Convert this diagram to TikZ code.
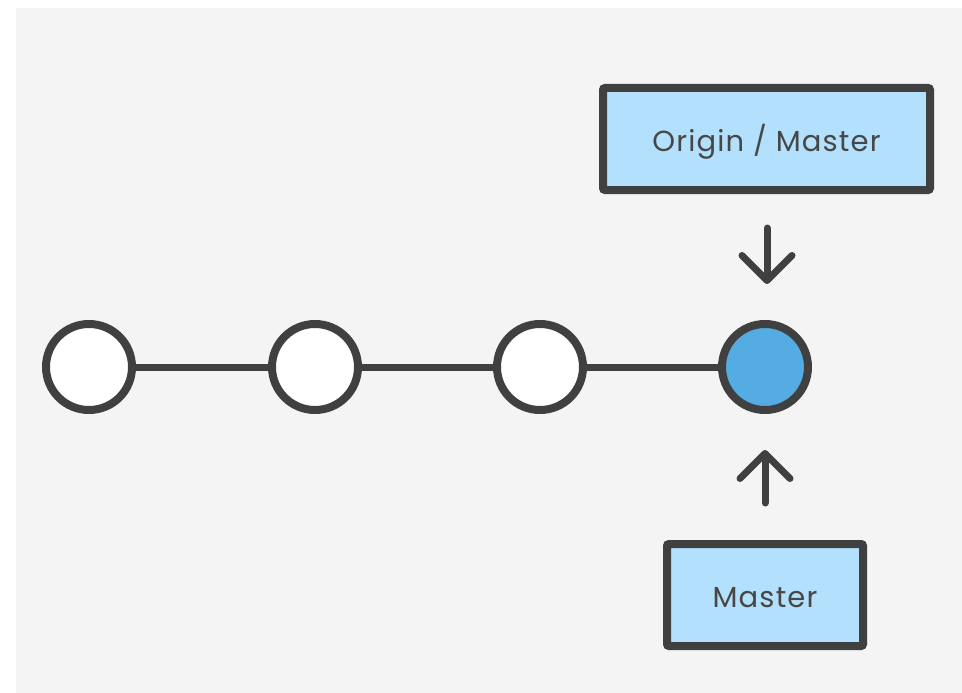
\documentclass[tikz,border=0pt]{standalone}
\usepackage{fontspec}
\setmainfont{Poppins}[LetterSpace=4]
\usetikzlibrary{arrows.meta}
\definecolor{bgray}{HTML}{F4F4F4}
\definecolor{ink}{HTML}{404040}
\definecolor{txt}{HTML}{474747}
\definecolor{boxfill}{HTML}{B3E1FD}
\definecolor{headblue}{HTML}{55ACE2}
\newcommand{\lowtext}[1]{\raisebox{-3pt}[\height][\depth]{#1}}
\tikzset{
  commit/.style={circle, draw=ink, line width=8pt, minimum size=86pt, inner sep=0pt, fill=white},
  head/.style={commit, fill=headblue},
  refbox/.style={rectangle, draw=ink, line width=8pt, fill=boxfill, rounded corners=2pt, inner sep=0pt, minimum height=102pt, text=txt, font=\fontsize{29pt}{33pt}\selectfont},
  link/.style={draw=ink, line width=7pt},
  pointer/.style={draw=ink, line width=7pt, line cap=round, -{Straight Barb[length=25pt,width=50pt,line cap=round,line join=round]}}
}
\begin{document}
\begin{tikzpicture}[x=1pt,y=-1pt]
\useasboundingbox (0,0) rectangle (962,693);
\fill[white] (0,0) rectangle (962,693);
\fill[bgray] (16,8) rectangle (962,693);
\node[commit] (c1) at (89,367) {};
\node[commit] (c2) at (315,367) {};
\node[commit] (c3) at (540,367) {};
\node[head] (c4) at (765,367) {};
\draw[link] (c1) -- (c2);
\draw[link] (c2) -- (c3);
\draw[link] (c3) -- (c4);
\node[refbox, minimum width=327pt] (om) at (766.5,139) {\lowtext{Origin / Master}};
\node[refbox, minimum width=196pt] (m) at (765,595) {\lowtext{Master}};
\coordinate (d1) at (767,228);
\coordinate (d2) at (767,284);
\coordinate (u1) at (765,503);
\coordinate (u2) at (765,450);
\draw[pointer] (d1) -- (d2);
\draw[pointer] (u1) -- (u2);
\end{tikzpicture}
\end{document}
